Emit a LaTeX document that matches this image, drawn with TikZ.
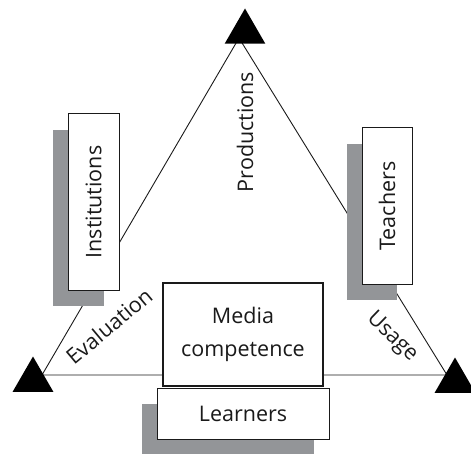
\documentclass[tikz,border=0pt]{standalone}
\usepackage{fontspec}
\setmainfont{Open Sans}
\usepackage{tikz}
\usetikzlibrary{positioning,shadows,shapes.geometric}
\definecolor{shadegray}{HTML}{939598}
\definecolor{inkdark}{HTML}{1A1A1A}
\tikzset{
  cornermark/.style={regular polygon,regular polygon sides=3,fill=black,
                     draw=none,minimum size=47pt,inner sep=0pt,outer sep=0pt},
  edgeline/.style={draw=inkdark,line width=0.9pt},
  rolenode/.style={draw=inkdark,line width=1pt,fill=white,text=inkdark,
                   inner sep=0pt,outer sep=0pt,
                   general shadow={fill=shadegray,shadow xshift=-15pt,shadow yshift=-16pt}},
  corenode/.style={draw=inkdark,line width=1.8pt,fill=white,text=inkdark,
                   align=center,inner sep=0pt,outer sep=0pt,
                   minimum width=160pt,minimum height=103pt},
  edgelabel/.style={text=inkdark,inner sep=0pt},
}
\begin{document}
\begin{tikzpicture}[x=1pt,y=1pt,font=\fontsize{21.5}{33}\selectfont]
  \useasboundingbox (0,0) rectangle (471,453);
  % corners of the triangle
  \coordinate (ctop) at (239,415);
  \coordinate (cleft) at (42,78);
  \coordinate (cright) at (447,78);
  \draw[edgeline] (ctop) -- (cleft) -- (cright) -- cycle;
  \node[cornermark] (mtop) at (245,421) {};
  \node[cornermark] (mleft) at (33,73) {};
  \node[cornermark] (mright) at (455,72) {};

  \node[rolenode,minimum width=51pt,minimum height=176pt] (inst) at (93.5,251) {};
  \node[rotate=90,text=inkdark] (instlabel) at (inst.center) {Institutions};
  \node[rolenode,minimum width=50pt,minimum height=156pt] (teach) at (387,247) {};
  \node[rotate=90,text=inkdark] (teachlabel) at (teach.center) {Teachers};
  \node[corenode] (media) at (243,118.5) {Media\\competence};
  \node[rolenode,below=2pt of media,minimum width=172pt,minimum height=51pt] (learn) {Learners};

  \node[edgelabel,rotate=90] (prod) at (245,321) {Productions};
  \node[edgelabel,rotate=40] (eval) at (109,127) {Evaluation};
  \node[edgelabel,rotate=-44] (usage) at (392,116) {Usage};
\end{tikzpicture}
\end{document}
